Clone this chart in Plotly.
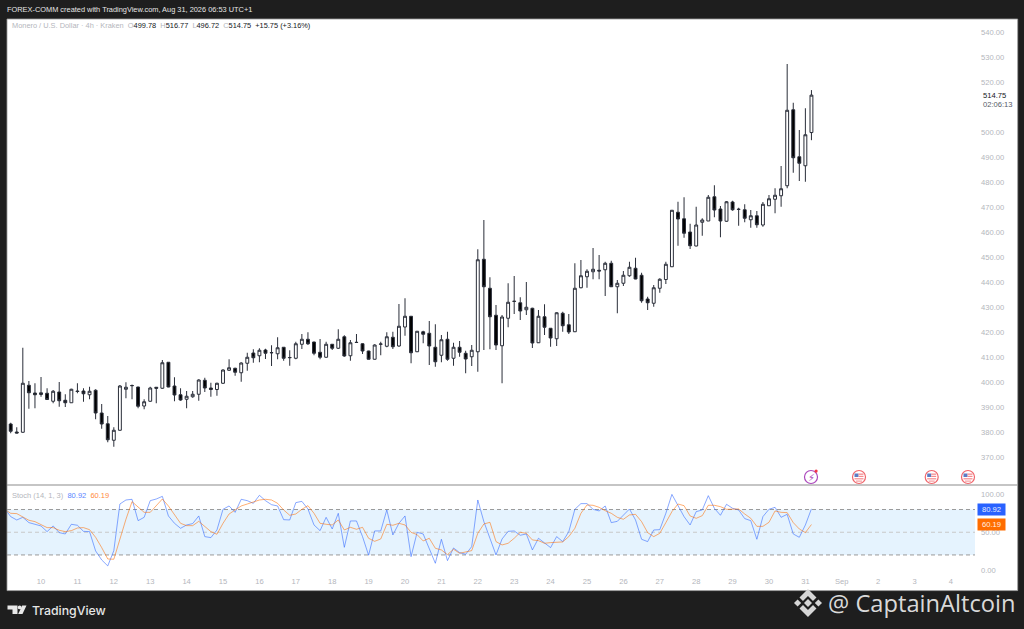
"""Monero / USD 4h candles with a stochastic pane, TradingView style."""

import pandas as pd
import plotly.graph_objects as go

W = 1024
H = 629

opens = [
    383.2, 380.0, 379.9, 398.7, 395.6, 395.0, 395.5, 392.3, 396.0, 392.7,
    391.7, 396.4, 396.4, 394.9, 396.7, 387.6, 383.3, 376.7, 380.7, 397.1,
    398.5, 398.0, 390.4, 392.3, 397.9, 397.5, 407.9, 398.4, 394.9, 393.1,
    394.1, 395.1, 400.7, 397.6, 397.0, 399.5, 404.7, 405.5, 403.7, 407.5,
    411.6, 410.5, 412.8, 411.8, 411.3, 413.9, 409.7, 409.5, 415.1, 417.1,
    416.0, 411.9, 409.9, 415.1, 413.5, 418.1, 410.5, 415.9, 415.3, 412.4,
    409.1, 415.1, 414.3, 417.9, 414.4, 422.0, 426.3, 412.1, 420.1, 419.5,
    413.9, 410.7, 417.1, 409.5, 413.9, 411.5, 410.1, 412.1, 449.1, 437.5,
    426.7, 414.5, 425.5, 432.2, 431.7, 428.9, 429.5, 415.7, 426.1, 421.5,
    417.3, 427.5, 422.9, 420.1, 437.7, 442.1, 444.1, 444.7, 444.9, 447.5,
    438.1, 439.5, 442.5, 445.5, 442.7, 433.2, 431.5, 437.5, 441.0, 446.1,
    467.9, 465.3, 460.0, 454.4, 463.9, 464.4, 474.1, 469.2, 464.3, 472.0,
    469.0, 468.9, 464.9, 466.5, 462.8, 470.5, 473.1, 474.5, 478.5, 508.9,
    490.1, 486.5, 499.78,
]
highs = [
    383.7, 381.9, 413.7, 400.4, 399.5, 402.0, 397.5, 396.8, 400.0, 395.1,
    397.3, 399.5, 397.5, 398.1, 397.1, 391.2, 386.4, 381.9, 398.8, 399.9,
    399.0, 398.1, 393.1, 398.1, 397.9, 408.8, 407.9, 401.9, 397.5, 396.4,
    396.4, 401.1, 401.7, 399.7, 399.7, 405.1, 409.1, 405.7, 407.9, 411.7,
    413.1, 413.5, 413.3, 414.7, 417.9, 413.9, 412.7, 416.1, 419.2, 419.9,
    416.1, 417.2, 416.1, 415.2, 421.1, 418.7, 416.8, 419.2, 415.5, 412.5,
    415.1, 416.1, 419.9, 420.1, 431.2, 433.5, 426.4, 420.4, 420.5, 424.4,
    423.1, 418.8, 420.1, 415.7, 416.4, 412.5, 414.8, 453.1, 464.8, 441.9,
    430.8, 426.8, 439.5, 442.4, 433.9, 440.0, 429.7, 428.8, 431.1, 421.5,
    427.9, 428.1, 427.2, 447.5, 448.8, 445.1, 453.6, 450.8, 448.1, 448.5,
    440.8, 444.4, 448.1, 449.7, 443.7, 434.1, 438.8, 441.5, 448.1, 468.8,
    472.1, 473.9, 463.3, 470.1, 465.5, 474.8, 478.7, 470.4, 472.4, 472.5,
    469.7, 471.1, 468.8, 468.4, 472.0, 474.8, 477.5, 486.4, 527.2, 511.7,
    500.8, 509.5, 516.77,
]
lows = [
    379.5, 379.5, 379.7, 389.3, 389.5, 394.1, 392.8, 391.5, 390.1, 390.0,
    391.7, 395.5, 392.1, 393.1, 385.1, 381.3, 375.9, 374.1, 380.5, 393.5,
    393.1, 389.5, 389.1, 392.1, 391.5, 397.3, 397.9, 392.3, 392.5, 389.5,
    393.7, 392.5, 396.0, 394.1, 394.5, 399.2, 404.4, 402.5, 400.1, 404.5,
    407.7, 407.9, 409.2, 406.4, 409.1, 408.5, 406.5, 409.1, 413.2, 414.8,
    410.7, 409.1, 409.7, 412.8, 413.2, 410.1, 408.5, 415.7, 411.2, 409.0,
    409.0, 410.7, 413.9, 413.2, 414.1, 418.5, 407.5, 412.0, 415.5, 406.8,
    406.1, 407.9, 408.5, 406.5, 410.1, 403.5, 406.4, 404.1, 412.8, 413.1,
    412.8, 399.5, 421.9, 427.2, 424.8, 426.8, 413.6, 415.6, 418.8, 414.1,
    414.4, 420.1, 419.2, 420.0, 437.5, 437.7, 441.1, 441.1, 434.4, 438.1,
    427.5, 438.4, 442.1, 441.1, 431.7, 428.8, 430.1, 435.7, 439.2, 446.0,
    454.5, 457.7, 453.2, 454.3, 458.5, 464.4, 465.9, 457.9, 464.1, 468.5,
    462.5, 463.9, 461.7, 461.7, 462.1, 470.4, 467.5, 470.1, 477.5, 483.7,
    480.4, 480.1, 496.72,
]
closes = [
    380.3, 379.6, 399.5, 395.7, 394.9, 395.7, 393.0, 396.3, 392.5, 391.7,
    397.1, 396.2, 395.3, 396.3, 387.6, 383.2, 376.9, 380.7, 398.4, 397.9,
    398.6, 390.3, 392.1, 397.6, 397.5, 407.7, 398.0, 394.8, 392.8, 394.3,
    395.1, 400.8, 397.6, 397.0, 399.5, 404.8, 405.7, 403.9, 407.6, 409.9,
    409.7, 412.7, 411.5, 411.7, 413.7, 409.5, 409.8, 415.3, 417.1, 415.3,
    411.5, 409.9, 415.1, 413.5, 417.1, 410.4, 415.7, 415.8, 412.4, 409.1,
    414.8, 415.2, 418.1, 414.1, 422.3, 426.3, 411.7, 420.3, 419.1, 414.4,
    408.1, 416.9, 409.1, 413.9, 411.9, 409.2, 412.7, 448.9, 438.1, 426.1,
    414.8, 426.0, 431.9, 432.3, 428.4, 429.9, 415.6, 426.3, 421.9, 417.6,
    427.7, 422.5, 420.0, 437.5, 442.5, 444.3, 445.1, 444.4, 447.5, 438.1,
    439.5, 442.7, 445.9, 441.2, 432.5, 431.7, 437.7, 441.1, 447.1, 468.7,
    465.2, 459.5, 454.5, 462.8, 464.8, 473.9, 468.8, 464.4, 472.1, 468.9,
    469.1, 465.5, 466.5, 462.9, 471.1, 473.3, 474.7, 477.3, 508.7, 489.7,
    487.5, 498.9, 514.75,
]

# stochastic starts one bar earlier than the first visible candle
stoch_k = [
    81.6,
    70.6, 66.2, 69.7, 62.7, 60.5, 58.3, 50.8, 58.3, 49.5, 47.7,
    60.5, 59.2, 51.2, 50.8, 25.3, 13.4, 5.5, 25.7, 87.3, 92.6,
    93.5, 65.3, 69.7, 91.7, 93.9, 97.4, 71.5, 61.8, 55.2, 59.6,
    61.4, 71.5, 44.2, 42.9, 53.0, 80.3, 84.7, 76.3, 93.5, 91.7,
    88.2, 98.8, 91.7, 86.4, 84.7, 66.6, 66.2, 89.1, 90.8, 80.7,
    59.6, 52.1, 69.7, 54.3, 75.0, 30.1, 64.9, 64.9, 44.2, 19.6,
    51.7, 51.7, 79.4, 46.4, 61.8, 71.5, 17.8, 49.9, 47.7, 28.8,
    9.0, 40.7, 12.5, 29.2, 23.1, 20.9, 31.0, 92.6, 64.0, 42.0,
    20.0, 41.1, 51.2, 51.7, 46.0, 47.7, 26.6, 42.0, 35.4, 29.7,
    44.2, 37.6, 50.8, 80.3, 87.8, 87.8, 80.3, 78.1, 84.7, 62.7,
    64.4, 71.9, 80.7, 66.2, 40.7, 37.6, 53.0, 53.4, 75.0, 100.0,
    85.6, 70.6, 59.6, 77.2, 79.4, 98.3, 81.6, 72.4, 86.9, 81.6,
    79.4, 68.0, 65.3, 40.7, 70.6, 80.3, 82.9, 69.7, 73.7, 47.7,
    43.3, 59.6, 80.92,
]
stoch_d = [
    80.3,
    75.0, 74.6, 69.7, 65.8, 64.0, 60.5, 56.1, 56.1, 52.6, 50.8,
    52.1, 55.6, 56.1, 53.4, 43.3, 29.7, 14.7, 14.3, 42.0, 67.1,
    90.4, 83.8, 76.3, 76.3, 85.6, 93.9, 84.7, 72.8, 61.8, 58.7,
    58.7, 64.4, 57.4, 50.8, 47.3, 61.8, 74.1, 79.4, 84.7, 87.3,
    90.0, 92.6, 93.5, 92.6, 88.2, 79.4, 72.4, 74.1, 80.3, 85.1,
    75.0, 61.8, 60.5, 59.6, 66.2, 53.0, 56.5, 53.9, 56.5, 42.0,
    38.0, 41.1, 60.5, 59.2, 61.8, 59.6, 49.9, 46.8, 38.5, 42.0,
    28.8, 26.6, 20.4, 27.5, 22.2, 24.0, 25.7, 48.6, 60.9, 63.1,
    37.6, 33.2, 35.4, 42.0, 49.9, 48.6, 39.8, 38.9, 35.4, 36.3,
    36.7, 37.2, 44.2, 55.2, 75.0, 86.0, 85.6, 82.9, 78.5, 75.0,
    69.7, 67.1, 72.8, 73.7, 64.0, 49.5, 44.2, 48.6, 62.7, 77.2,
    87.3, 85.1, 71.5, 68.4, 71.9, 85.6, 85.6, 83.8, 80.3, 80.3,
    80.7, 74.1, 68.4, 57.8, 57.8, 63.1, 78.1, 76.3, 75.9, 62.7,
    54.3, 49.5, 60.19,
]

# 510 sits under the last price label in the reference
price_ticks = [370, 380, 390, 400, 410, 420, 430, 440, 450, 460, 470, 480, 490, 500, 520, 530, 540]
stoch_ticks = [0, 50, 100]
day_ticks = ["2026-08-%02d" % d for d in range(10, 32)] + [
    "2026-09-01", "2026-09-02", "2026-09-03", "2026-09-04",
]
day_labels = [str(d) for d in range(10, 32)] + ["Sep", "2", "3", "4"]

candle_times = pd.date_range("2026-08-09 04:00", periods=len(closes), freq="4h")
stoch_times = pd.date_range("2026-08-09 00:00", periods=len(stoch_k), freq="4h")

DARK = "#1e1e1e"
TEXT_GREY = "#b4b6bc"
FONT = "Liberation Sans"


def px(x, y):
    """Screen pixel to paper fractions, margins are zero so paper is the page."""
    return x / W, 1 - y / H


def rect_path(points):
    parts = []
    for i, (x, y) in enumerate(points):
        fx, fy = px(x, y)
        parts.append(f"{'M' if i == 0 else 'L'}{fx:.5f},{fy:.5f}")
    return " ".join(parts) + " Z"


def poly(points, color):
    return {
        "type": "path", "xref": "paper", "yref": "paper", "path": rect_path(points),
        "fillcolor": color, "line": {"width": 0}, "layer": "above",
    }


def box(x0, y0, x1, y1, fill, line_color=None, line_width=0, kind="rect"):
    fx0, fy0 = px(x0, y0)
    fx1, fy1 = px(x1, y1)
    return {
        "type": kind, "xref": "paper", "yref": "paper",
        "x0": fx0, "y0": fy0, "x1": fx1, "y1": fy1,
        "fillcolor": fill, "line": {"width": line_width, "color": line_color or fill},
        "layer": "above",
    }


def label(x, y, text, size=7.6, color=TEXT_GREY, anchor="left", family=FONT, weight=None, **kwargs):
    fx, fy = px(x, y)
    font = {"size": size, "color": color, "family": family}
    if weight:
        font["weight"] = weight
    return {
        "xref": "paper", "yref": "paper", "x": fx, "y": fy, "text": text,
        "showarrow": False, "xanchor": anchor, "yanchor": "middle",
        "font": font, "borderpad": 0, **kwargs,
    }


def flag_icon(cx, cy):
    """US economic event marker."""
    shapes = [box(cx - 6.5, cy - 6.5, cx + 6.5, cy + 6.5, "#ffffff", "#f0656b", 1.2, "circle")]
    shapes.append(box(cx - 4.5, cy - 3.5, cx - 0.5, cy, "#5b7cc4"))
    shapes.append(box(cx - 0.5, cy - 3.5, cx + 4.5, cy - 2.2, "#f58a8e"))
    shapes.append(box(cx - 0.5, cy - 1.2, cx + 4.5, cy, "#f58a8e"))
    shapes.append(box(cx - 4.5, cy + 1.2, cx + 4.5, cy + 2.4, "#f58a8e"))
    shapes.append(box(cx - 3.0, cy + 3.6, cx + 3.0, cy + 4.6, "#f58a8e"))
    return shapes


def binance_logo(cx, cy):
    """Diamond mark next to the CaptainAltcoin watermark."""
    c = "#d6d6d6"
    s = 14
    return [
        poly([(cx, cy - 4), (cx + 4, cy), (cx, cy + 4), (cx - 4, cy)], c),
        poly([(cx - s, cy), (cx - s + 3.6, cy - 3.6), (cx - s + 7.2, cy), (cx - s + 3.6, cy + 3.6)], c),
        poly([(cx + s, cy), (cx + s - 3.6, cy - 3.6), (cx + s - 7.2, cy), (cx + s - 3.6, cy + 3.6)], c),
        poly([(cx, cy - s), (cx + 8.5, cy - s + 8.5), (cx + 5, cy - s + 12), (cx, cy - s + 7),
              (cx - 5, cy - s + 12), (cx - 8.5, cy - s + 8.5)], c),
        poly([(cx, cy + s), (cx + 8.5, cy + s - 8.5), (cx + 5, cy + s - 12), (cx, cy + s - 7),
              (cx - 5, cy + s - 12), (cx - 8.5, cy + s - 8.5)], c),
    ]


def tv_logo():
    c = "#e8e8e8"
    return [
        poly([(7.5, 605.5), (17.5, 605.5), (17.5, 614), (12.5, 614), (12.5, 609.5), (7.5, 609.5)], c),
        box(17.8, 605.5, 21.6, 609.3, c, kind="circle"),
        poly([(22.2, 605.5), (26.5, 605.5), (22.5, 614), (18.2, 614)], c),
    ]


PANE_TOP = 19.0
PANE_SPLIT = 485.0
PANE_BOTTOM = 590.6
PANE_LEFT = 7.0
PANE_RIGHT = 1017.7

fig = go.Figure()
fig.add_trace(go.Candlestick(
    x=candle_times, open=opens, high=highs, low=lows, close=closes,
    xaxis="x", yaxis="y",
    increasing={"line": {"color": "#2a2e39", "width": 1}, "fillcolor": "#ffffff"},
    decreasing={"line": {"color": "#2a2e39", "width": 1}, "fillcolor": "#000000"},
    whiskerwidth=0, showlegend=False,
))
fig.add_trace(go.Scatter(
    x=stoch_times, y=stoch_k, mode="lines", xaxis="x", yaxis="y2",
    line={"color": "rgba(41,98,255,0.55)", "width": 1}, showlegend=False,
))
fig.add_trace(go.Scatter(
    x=stoch_times, y=stoch_d, mode="lines", xaxis="x", yaxis="y2",
    line={"color": "rgba(255,109,0,0.55)", "width": 1}, showlegend=False,
))

band_end = (975 - PANE_LEFT) / (PANE_RIGHT - PANE_LEFT)
shapes = [
    {"type": "rect", "xref": "x domain", "yref": "y2", "x0": 0, "x1": band_end, "y0": 20, "y1": 80,
     "fillcolor": "#e5f3fe", "line": {"width": 0}, "layer": "below"},
]
for level, dash_color in [(80, "#9a9a9a"), (50, "#c8c8c8"), (20, "#9a9a9a")]:
    shapes.append({
        "type": "line", "xref": "x domain", "yref": "y2", "x0": 0, "x1": band_end, "y0": level, "y1": level,
        "line": {"color": dash_color, "width": 1, "dash": "4px,3px"}, "layer": "below",
    })

shapes.append(box(0, PANE_SPLIT - 0.6, W, PANE_SPLIT + 0.6, "#8c8c8c"))
shapes[-1]["x0"], shapes[-1]["x1"] = PANE_LEFT / W, PANE_RIGHT / W
shapes.append(box(PANE_LEFT, PANE_TOP, PANE_RIGHT, PANE_BOTTOM, "rgba(0,0,0,0)", "#9a9a9a", 0.8))

shapes.append(box(804.5, 470.5, 817.5, 483.5, "#ffffff", "#ab47bc", 1.2, "circle"))
shapes.append(box(814.5, 469.5, 817.7, 472.7, "#f23645", kind="circle"))
for center in (859, 931.7, 968):
    shapes.extend(flag_icon(center, 477))
shapes.extend(binance_logo(808, 603))
shapes.extend(tv_logo())

grey = f'color:{TEXT_GREY}'
annotations = [
    label(6, 9, "FOREX-COMM created with TradingView.com, Aug 31, 2026 06:53 UTC+1", size=7.4, color="#e6e6e6"),
    label(
        11, 26,
        f'<span style="{grey}">Monero / U.S. Dollar · 4h · Kraken</span>'
        f'  <span style="{grey}">O</span>499.78'
        f'  <span style="{grey}">H</span>516.77'
        f'  <span style="{grey}">L</span>496.72'
        f'  <span style="{grey}">C</span>514.75'
        "  +15.75 (+3.16%)",
        color="#131722", size=7.4,
    ),
    label(
        11, 495,
        f'<span style="{grey}">Stoch (14, 1, 3)</span>'
        '  <span style="color:#5a86ff">80.92</span>'
        '  <span style="color:#ff8a3d">60.19</span>',
        size=7.5,
    ),
    label(982, 95.5, "514.75", color="#131722"),
    label(982, 104.5, "02:06:13", color="#555b66"),
    label(977, 509, "80.92", color="#e8edff", bgcolor="#2962ff", width=27, height=11, align="center"),
    label(977, 524.5, "60.19", color="#fff0e0", bgcolor="#ff6d00", width=27, height=11, align="center"),
    label(31, 610, "TradingView", color="#e6e6e6", size=12.3, family="Inter", weight=500),
    label(827, 603, "@ CaptainAltcoin", color="#d9d9d9", size=23.7, family="Open Sans"),
    label(811, 477, "⚡", color="#ab47bc", size=10, anchor="center", family="DejaVu Sans"),
]

tick_font = {"size": 7.6, "color": TEXT_GREY, "family": FONT}
fig.update_layout(
    width=W,
    height=H,
    margin={"l": 0, "r": 0, "t": 0, "b": 0, "autoexpand": False},
    paper_bgcolor=DARK,
    plot_bgcolor="#ffffff",
    boxgap=0.32,
    showlegend=False,
    hovermode=False,
    shapes=shapes,
    annotations=annotations,
    xaxis={
        "domain": [PANE_LEFT / W, PANE_RIGHT / W],
        "anchor": "free",
        "position": 1 - 575 / H,
        "range": ["2026-08-09 01:34", "2026-09-05 20:00"],
        "tickmode": "array",
        "tickvals": day_ticks,
        "ticktext": day_labels,
        "tickfont": tick_font,
        "ticks": "",
        "tickangle": 0,
        "showgrid": False,
        "zeroline": False,
        "showline": False,
        "rangeslider": {"visible": False},
    },
    yaxis={
        "domain": [1 - PANE_SPLIT / H, 1 - PANE_TOP / H],
        "range": [358.8, 545.2],
        "side": "right",
        "anchor": "free",
        "position": 980 / W,
        "tickmode": "array",
        "tickvals": price_ticks,
        "tickformat": ".2f",
        "tickfont": tick_font,
        "ticks": "",
        "showgrid": False,
        "zeroline": False,
        "showline": False,
    },
    yaxis2={
        "domain": [1 - PANE_BOTTOM / H, 1 - PANE_SPLIT / H],
        "range": [-27.1, 112.4],
        "side": "right",
        "anchor": "free",
        "position": 980 / W,
        "tickmode": "array",
        "tickvals": stoch_ticks,
        "tickformat": ".2f",
        "tickfont": tick_font,
        "ticks": "",
        "showgrid": False,
        "zeroline": False,
        "showline": False,
    },
)

# default page margin would push the figure off the screenshot
fig.write_html(
    "out.html",
    config={"displayModeBar": False},
    post_script="document.body.style.margin='0';document.body.style.background='#1e1e1e';",
)
